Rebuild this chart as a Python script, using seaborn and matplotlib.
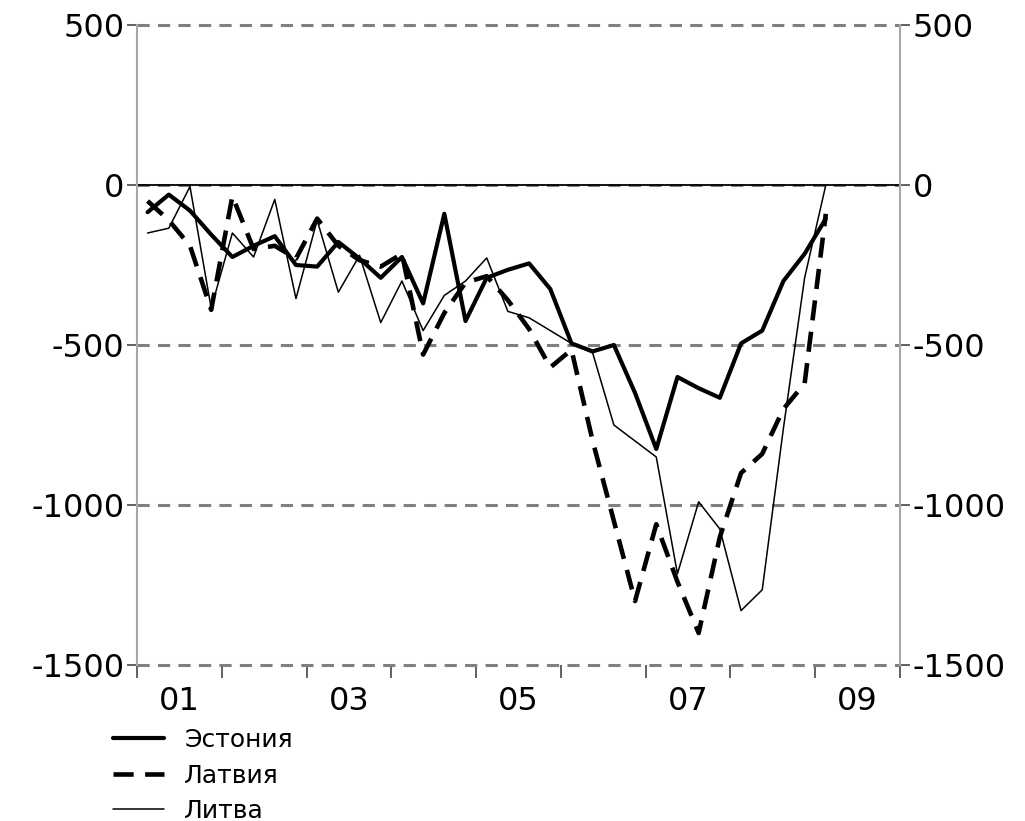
import matplotlib
matplotlib.use('Agg')
import matplotlib.pyplot as plt
import seaborn as sns
import pandas as pd
from matplotlib.ticker import FixedLocator, FixedFormatter, NullFormatter

# quarterly data, 2001Q1 - 2009Q1
quarters = [f"{y}Q{q}" for y in range(2001, 2010) for q in range(1, 5)][:33]

estonia = [-85, -30, -80, -155, -225, -190, -160, -250, -255, -178, -230,
           -290, -225, -370, -90, -425, -290, -265, -245, -325, -495, -520,
           -500, -650, -825, -600, -635, -665, -495, -455, -300, -215, -105]

latvia = [-50, -110, -190, -390, -35, -200, -190, -230, -105, -190, -235,
          -255, -215, -530, -400, -305, -285, -360, -450, -570, -515, -800,
          -1050, -1300, -1060, -1240, -1400, -1100, -900, -840, -700, -620, -90]

lithuania = [-150, -135, -5, -385, -150, -225, -45, -355, -110, -335, -220,
             -430, -300, -455, -345, -300, -228, -395, -415, -455, -495, -525,
             -750, -800, -850, -1215, -990, -1075, -1330, -1265, -760, -290, 0]

series_names = ['Эстония', 'Латвия', 'Литва']
year_bounds = list(range(2001, 2011))
label_years = [2001, 2003, 2005, 2007, 2009]
label_text = ['01', '03', '05', '07', '09']
y_ticks = [500, 0, -500, -1000, -1500]

# quarter -> position in the middle of the quarter
xpos = [int(q[:4]) + (int(q[-1]) - 0.5) / 4 for q in quarters]
df = pd.DataFrame({'x': xpos, 'Эстония': estonia, 'Латвия': latvia, 'Литва': lithuania})

sns.set_style('white')
plt.rcParams['font.family'] = ['DejaVu Sans']
plt.rcParams['text.color'] = 'black'

fig = plt.figure(figsize=(10.25, 8.21), dpi=100)
ax = fig.add_axes([137 / 1025, 1 - 665 / 821, 763 / 1025, 640 / 821])

sns.lineplot(data=df, x='x', y='Эстония', ax=ax, color='black', lw=3.0,
             label='Эстония', zorder=4)
sns.lineplot(data=df, x='x', y='Латвия', ax=ax, color='black', lw=3.3,
             linestyle=(0, (4.4, 2.5)), label='Латвия', zorder=3)
sns.lineplot(data=df, x='x', y='Литва', ax=ax, color='black', lw=1.1,
             label='Литва', zorder=5)

ax.set_xlim(2001, 2010)
ax.set_ylim(-1500, 500)
ax.set_xlabel('')
ax.set_ylabel('')

# gridlines
ax.yaxis.set_major_locator(FixedLocator(y_ticks))
ax.grid(axis='y', color='#808080', linestyle=(0, (4, 2.7)), linewidth=2.2, zorder=1)
for gl in ax.get_ygridlines():
    gl.set_clip_on(False)
ax.axhline(0, color='black', lw=1.3, zorder=2)

for s in ['top', 'bottom']:
    ax.spines[s].set_visible(False)
for s in ['left', 'right']:
    ax.spines[s].set_color('#a8a8a8')
    ax.spines[s].set_linewidth(1.5)

ax.tick_params(axis='y', which='major', left=True, right=True, labelleft=True,
               labelright=True, direction='out', length=10, width=1.3,
               color='#555555', pad=7, labelsize=23, labelcolor='black')
ax.tick_params(axis='y', which='major', right=True, length=7, pad=2)

ax.xaxis.set_major_locator(FixedLocator(year_bounds))
ax.xaxis.set_major_formatter(NullFormatter())
ax.xaxis.set_minor_locator(FixedLocator([y + 0.5 for y in label_years]))
ax.xaxis.set_minor_formatter(FixedFormatter(label_text))
ax.tick_params(axis='x', which='major', direction='out', length=9, width=1.3,
               color='#555555', bottom=True)
ax.tick_params(axis='x', which='minor', length=0, pad=15, labelsize=23,
               labelcolor='black')
ax.set_yticklabels([str(v) for v in y_ticks])

handles, labels = ax.get_legend_handles_labels()
ax.get_legend().remove()
fig.legend(handles, labels, loc='upper left', bbox_to_anchor=(113 / 1025, 1 - 728 / 821),
           frameon=False, fontsize=18, handlelength=2.05, handletextpad=0.8,
           labelspacing=0.46, borderpad=0, borderaxespad=0, labelcolor='black')

fig.savefig('out.png', dpi=100)
